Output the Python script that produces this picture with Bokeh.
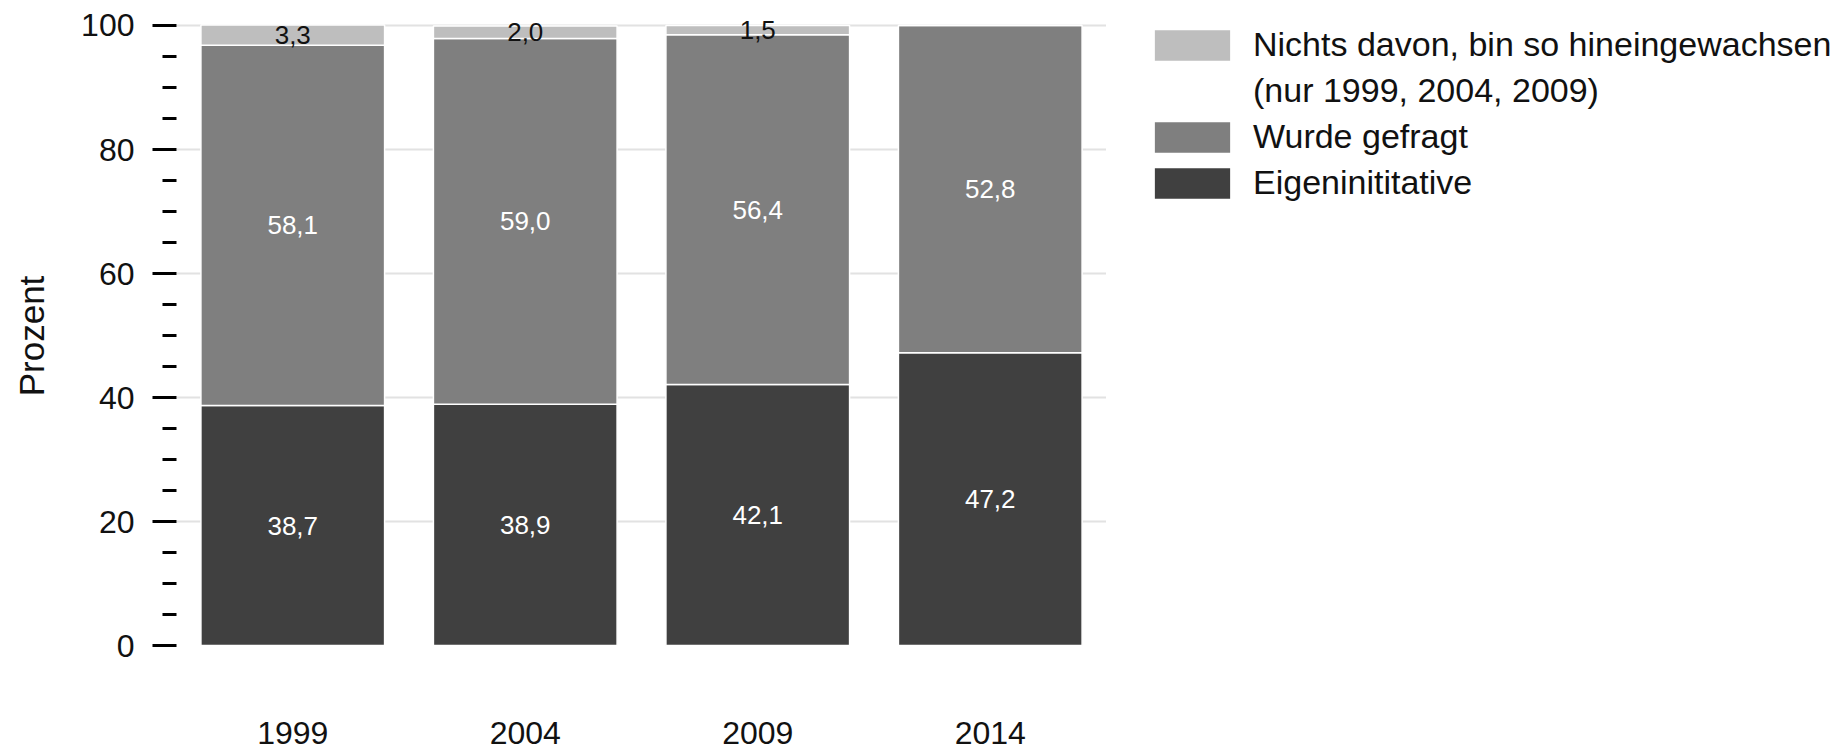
from bokeh.plotting import figure
from bokeh.layouts import row
from bokeh.models import (FactorRange, Range1d, FixedTicker, ColumnDataSource,
                          Legend, LegendItem, LabelSet)
from bokeh.core.properties import value
from bokeh.embed import file_html
from bokeh.resources import INLINE

# ---- data ----
years = ["1999", "2004", "2009", "2014"]
eigeninitiative = [38.7, 38.9, 42.1, 47.2]
wurde_gefragt = [58.1, 59.0, 56.4, 52.8]
nichts_davon = [3.3, 2.0, 1.5, 0.0]

series_keys = ["eigen", "gefragt", "nichts"]
series_labels = ["Eigeninititative", "Wurde gefragt",
                 "Nichts davon, bin so hineingewachsen"]
legend_second_line = "(nur 1999, 2004, 2009)"
series_colors = ["#404040", "#7f7f7f", "#bebebe"]
label_colors = ["white", "white", "#111111"]

y_major_ticks = [0, 20, 40, 60, 80, 100]
y_minor_ticks = [5, 10, 15, 25, 30, 35, 45, 50, 55, 65, 70, 75, 85, 90, 95]
grid_ticks = [20, 40, 60, 80, 100]

FONT = "Liberation Sans"

src = ColumnDataSource(dict(year=years, eigen=eigeninitiative,
                            gefragt=wurde_gefragt, nichts=nichts_davon))

# label positions from stacked values
lx, ly, lt, lc = [], [], [], []
series_vals = [eigeninitiative, wurde_gefragt, nichts_davon]
for j, yr in enumerate(years):
    base = 0.0
    for i, vals in enumerate(series_vals):
        v = vals[j]
        if v > 0:
            lx.append(yr)
            ly.append(base + v / 2.0)
            lt.append(f"{v:.1f}".replace(".", ","))
            lc.append(label_colors[i])
        base += v
lab_src = ColumnDataSource(dict(x=lx, y=ly, text=lt, color=lc))

# ---------------- main chart ----------------
p = figure(x_range=FactorRange(*years, range_padding=0),
           y_range=Range1d(-3.548, 103.387),
           width=1106, height=750, output_backend="svg", toolbar_location=None,
           min_border_left=176, min_border_right=0,
           min_border_top=4, min_border_bottom=83)
p.outline_line_color = None
p.background_fill_color = "white"
p.border_fill_color = "white"

p.xgrid.visible = False
p.ygrid.ticker = FixedTicker(ticks=grid_ticks)
p.ygrid.grid_line_color = "#e2e2e2"
p.ygrid.grid_line_width = 2

rs = p.vbar_stack(series_keys, x="year", width=0.79, source=src,
                  color=series_colors, line_color="white", line_width=1.5)

p.add_layout(LabelSet(x="x", y="y", text="text", source=lab_src,
                      text_color="color", text_align="center",
                      text_baseline="middle", text_font=value(FONT),
                      text_font_size="26px"))

# y axis
ya = p.yaxis[0]
ya.ticker = FixedTicker(ticks=y_major_ticks, minor_ticks=y_minor_ticks)
ya.axis_line_color = None
ya.major_tick_line_color = "black"
ya.major_tick_line_width = 3
ya.major_tick_out = 24
ya.major_tick_in = 0
ya.minor_tick_line_color = "black"
ya.minor_tick_line_width = 3
ya.minor_tick_out = 14
ya.minor_tick_in = 0
ya.major_label_standoff = 18
ya.major_label_text_font = FONT
ya.major_label_text_font_size = "32px"
ya.major_label_text_color = "#111111"
ya.axis_label = "Prozent"
ya.axis_label_text_font = FONT
ya.axis_label_text_font_size = "35px"
ya.axis_label_text_font_style = "normal"
ya.axis_label_text_color = "#111111"
ya.axis_label_standoff = 27

# x axis
xa = p.xaxis[0]
xa.axis_line_color = None
xa.major_tick_line_color = None
xa.minor_tick_line_color = None
xa.major_tick_out = 0
xa.major_tick_in = 0
xa.major_label_standoff = 54
xa.major_label_text_font = FONT
xa.major_label_text_font_size = "32px"
xa.major_label_text_color = "#111111"

# ---------------- legend panel ----------------
pl = figure(width=742, height=750, output_backend="svg", toolbar_location=None,
            x_axis_type=None, y_axis_type=None,
            x_range=Range1d(0, 1), y_range=Range1d(0, 1),
            min_border_left=18, min_border_top=4,
            min_border_right=0, min_border_bottom=83)
pl.outline_line_color = None
pl.grid.visible = False
pl.background_fill_color = "white"
pl.border_fill_color = "white"

# zero-size swatch carriers (invisible in the plot, styled for the legend)
swatch_src = ColumnDataSource(dict(x=[0.5], y=[0.0]))
lr = [pl.vbar(x="x", top="y", bottom="y", width=0, source=swatch_src,
              fill_color=c, line_color="white", line_width=1.5)
      for c in series_colors]
blank = pl.vbar(x="x", top="y", bottom="y", width=0, source=swatch_src,
                fill_alpha=0, line_alpha=0)

items = [LegendItem(label=series_labels[2], renderers=[lr[2]]),
         LegendItem(label=legend_second_line, renderers=[blank]),
         LegendItem(label=series_labels[1], renderers=[lr[1]]),
         LegendItem(label=series_labels[0], renderers=[lr[0]])]
legend = Legend(items=items, location="top_left", orientation="vertical",
                glyph_width=96, glyph_height=40, label_standoff=13,
                label_height=41, label_text_baseline="middle",
                label_text_font=FONT, label_text_font_size="34px",
                label_text_color="#111111",
                spacing=5, padding=0, margin=20,
                border_line_color=None, background_fill_alpha=0)
pl.add_layout(legend, "center")

layout = row(p, pl, spacing=0)
open("out.html", "w").write(file_html(layout, INLINE))
